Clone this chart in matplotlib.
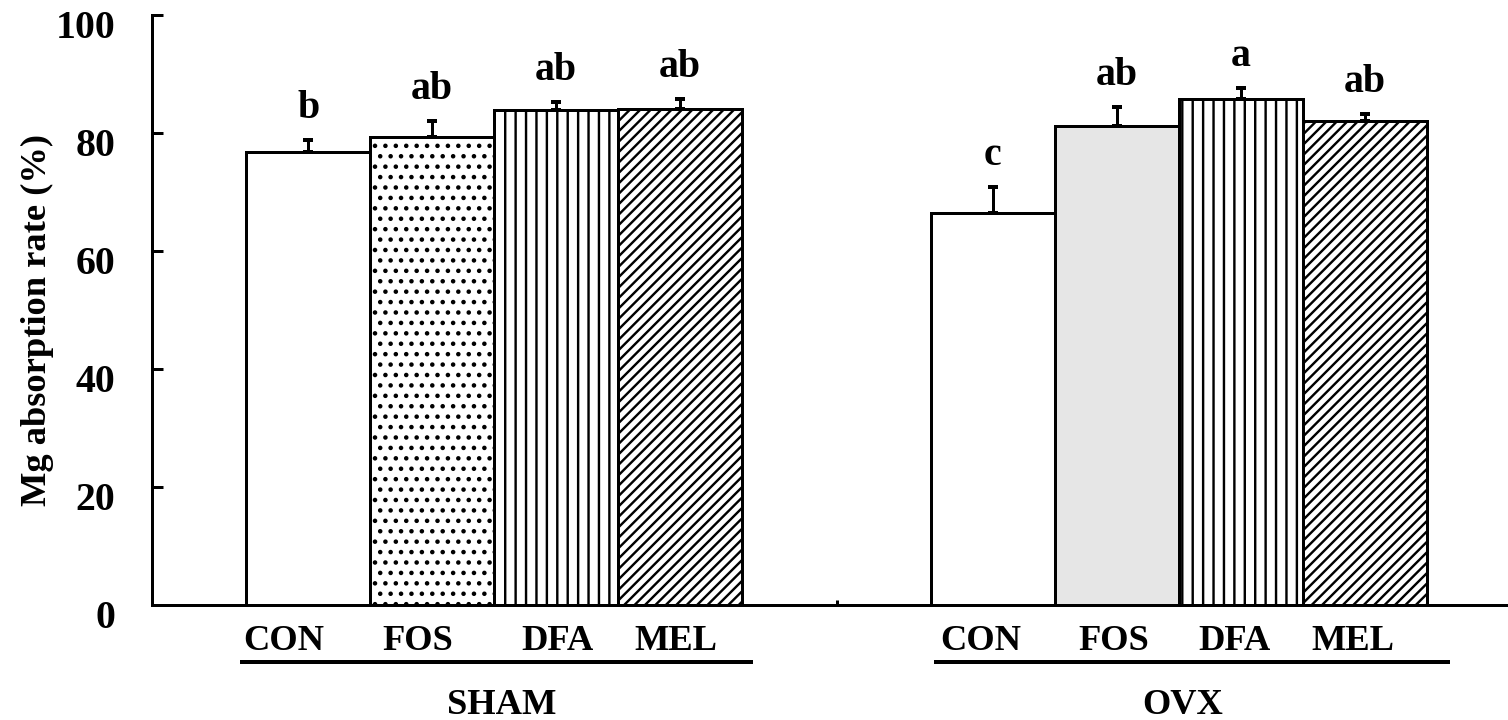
import numpy as np
import matplotlib
matplotlib.use('Agg')
import matplotlib.pyplot as plt
import matplotlib.transforms as mtrans

# values
groups = ['SHAM', 'OVX']
treatments = ['CON', 'FOS', 'DFA', 'MEL']
sham_mean = [76.8, 79.3, 83.9, 84.1]
sham_err = [2.0, 2.7, 1.4, 1.7]
ovx_mean = [66.4, 81.2, 85.8, 82.0]
ovx_err = [4.4, 3.2, 1.8, 1.2]
sham_sig = ['b', 'ab', 'ab', 'ab']
ovx_sig = ['c', 'ab', 'a', 'ab']
yticks = [0, 20, 40, 60, 80, 100]

DPI = 125
px = 72.0 / DPI  # points per pixel

plt.rcParams['font.family'] = ['Liberation Serif', 'DejaVu Serif']
plt.rcParams['font.weight'] = 'bold'
plt.rcParams['hatch.linewidth'] = 2.4 * px

fig = plt.figure(figsize=(1508 / DPI, 720 / DPI), dpi=DPI)
ax = fig.add_axes([152 / 1508, 115 / 720, 1356 / 1508, 590 / 720])

# bar layout (bar width = 1)
starts = [1.26, 6.78]
styles = [
    [dict(facecolor='white', hatch=None),
     dict(facecolor='white', hatch='..'),
     dict(facecolor='white', hatch='||'),
     dict(facecolor='white', hatch='////')],
    [dict(facecolor='white', hatch=None),
     dict(facecolor='#e6e6e6', hatch=None),
     dict(facecolor='white', hatch='||'),
     dict(facecolor='white', hatch='////')],
]
means = [sham_mean, ovx_mean]
errs = [sham_err, ovx_err]
sigs = [sham_sig, ovx_sig]

for g in range(2):
    xs = starts[g] + np.arange(len(treatments))
    for i, x in enumerate(xs):
        ax.bar(x, means[g][i], width=1.0, edgecolor='black',
               linewidth=3 * px, zorder=2, **styles[g][i])
    ax.errorbar(xs, means[g], yerr=[np.zeros(4), errs[g]], fmt='none',
                ecolor='black', elinewidth=3 * px, capsize=5.5 * px,
                capthick=4 * px, zorder=3)
    for x, m, e, s in zip(xs, means[g], errs[g], sigs[g]):
        ax.annotate(s, (x, m + e), xytext=(0, 22 * px), textcoords='offset points',
                    ha='center', va='baseline', fontsize=23, fontweight='bold')

ax.set_xlim(0, 1356 / 124)
ax.set_ylim(0, 100)

for side in ['top', 'right']:
    ax.spines[side].set_visible(False)
for side in ['left', 'bottom']:
    ax.spines[side].set_linewidth(3 * px)

ax.set_yticks(yticks)
ax.set_yticklabels([str(v) for v in yticks])
ax.tick_params(axis='y', direction='in', length=11 * px, width=3 * px,
               pad=21, labelsize=23)
shift = mtrans.ScaledTranslation(0, -9 / DPI, fig.dpi_scale_trans)
for lab in ax.get_yticklabels():
    lab.set_transform(lab.get_transform() + shift)

# treatment labels under each group
label_x = [1.065, 2.145, 3.266, 4.226, 6.685, 7.758, 8.726, 9.685]
ax.set_xticks(label_x)
ax.set_xticklabels(treatments * 2)
ax.tick_params(axis='x', which='major', length=0, pad=20 * px, labelsize=21)
ax.set_xticks([5.524], minor=True)
ax.tick_params(axis='x', which='minor', direction='in', length=5 * px, width=3 * px)

# group underline and name
trans = mtrans.blended_transform_factory(ax.transData, ax.transAxes)
lines = [(0.71, 4.85), (6.31, 10.47)]
centers = [2.82, 8.31]
for (a, b), c, name in zip(lines, centers, groups):
    ax.plot([a, b], [-0.0966, -0.0966], color='black', linewidth=4 * px,
            transform=trans, clip_on=False, solid_capstyle='butt')
    ax.text(c, -0.185, name, transform=trans, ha='center', va='baseline',
            fontsize=21, fontweight='bold')

ax.text(-0.0848, 0.483, 'Mg absorption rate (%)', transform=ax.transAxes,
        rotation=90, ha='center', va='center', fontsize=21, fontweight='bold')

fig.savefig('out.png', dpi=DPI)
